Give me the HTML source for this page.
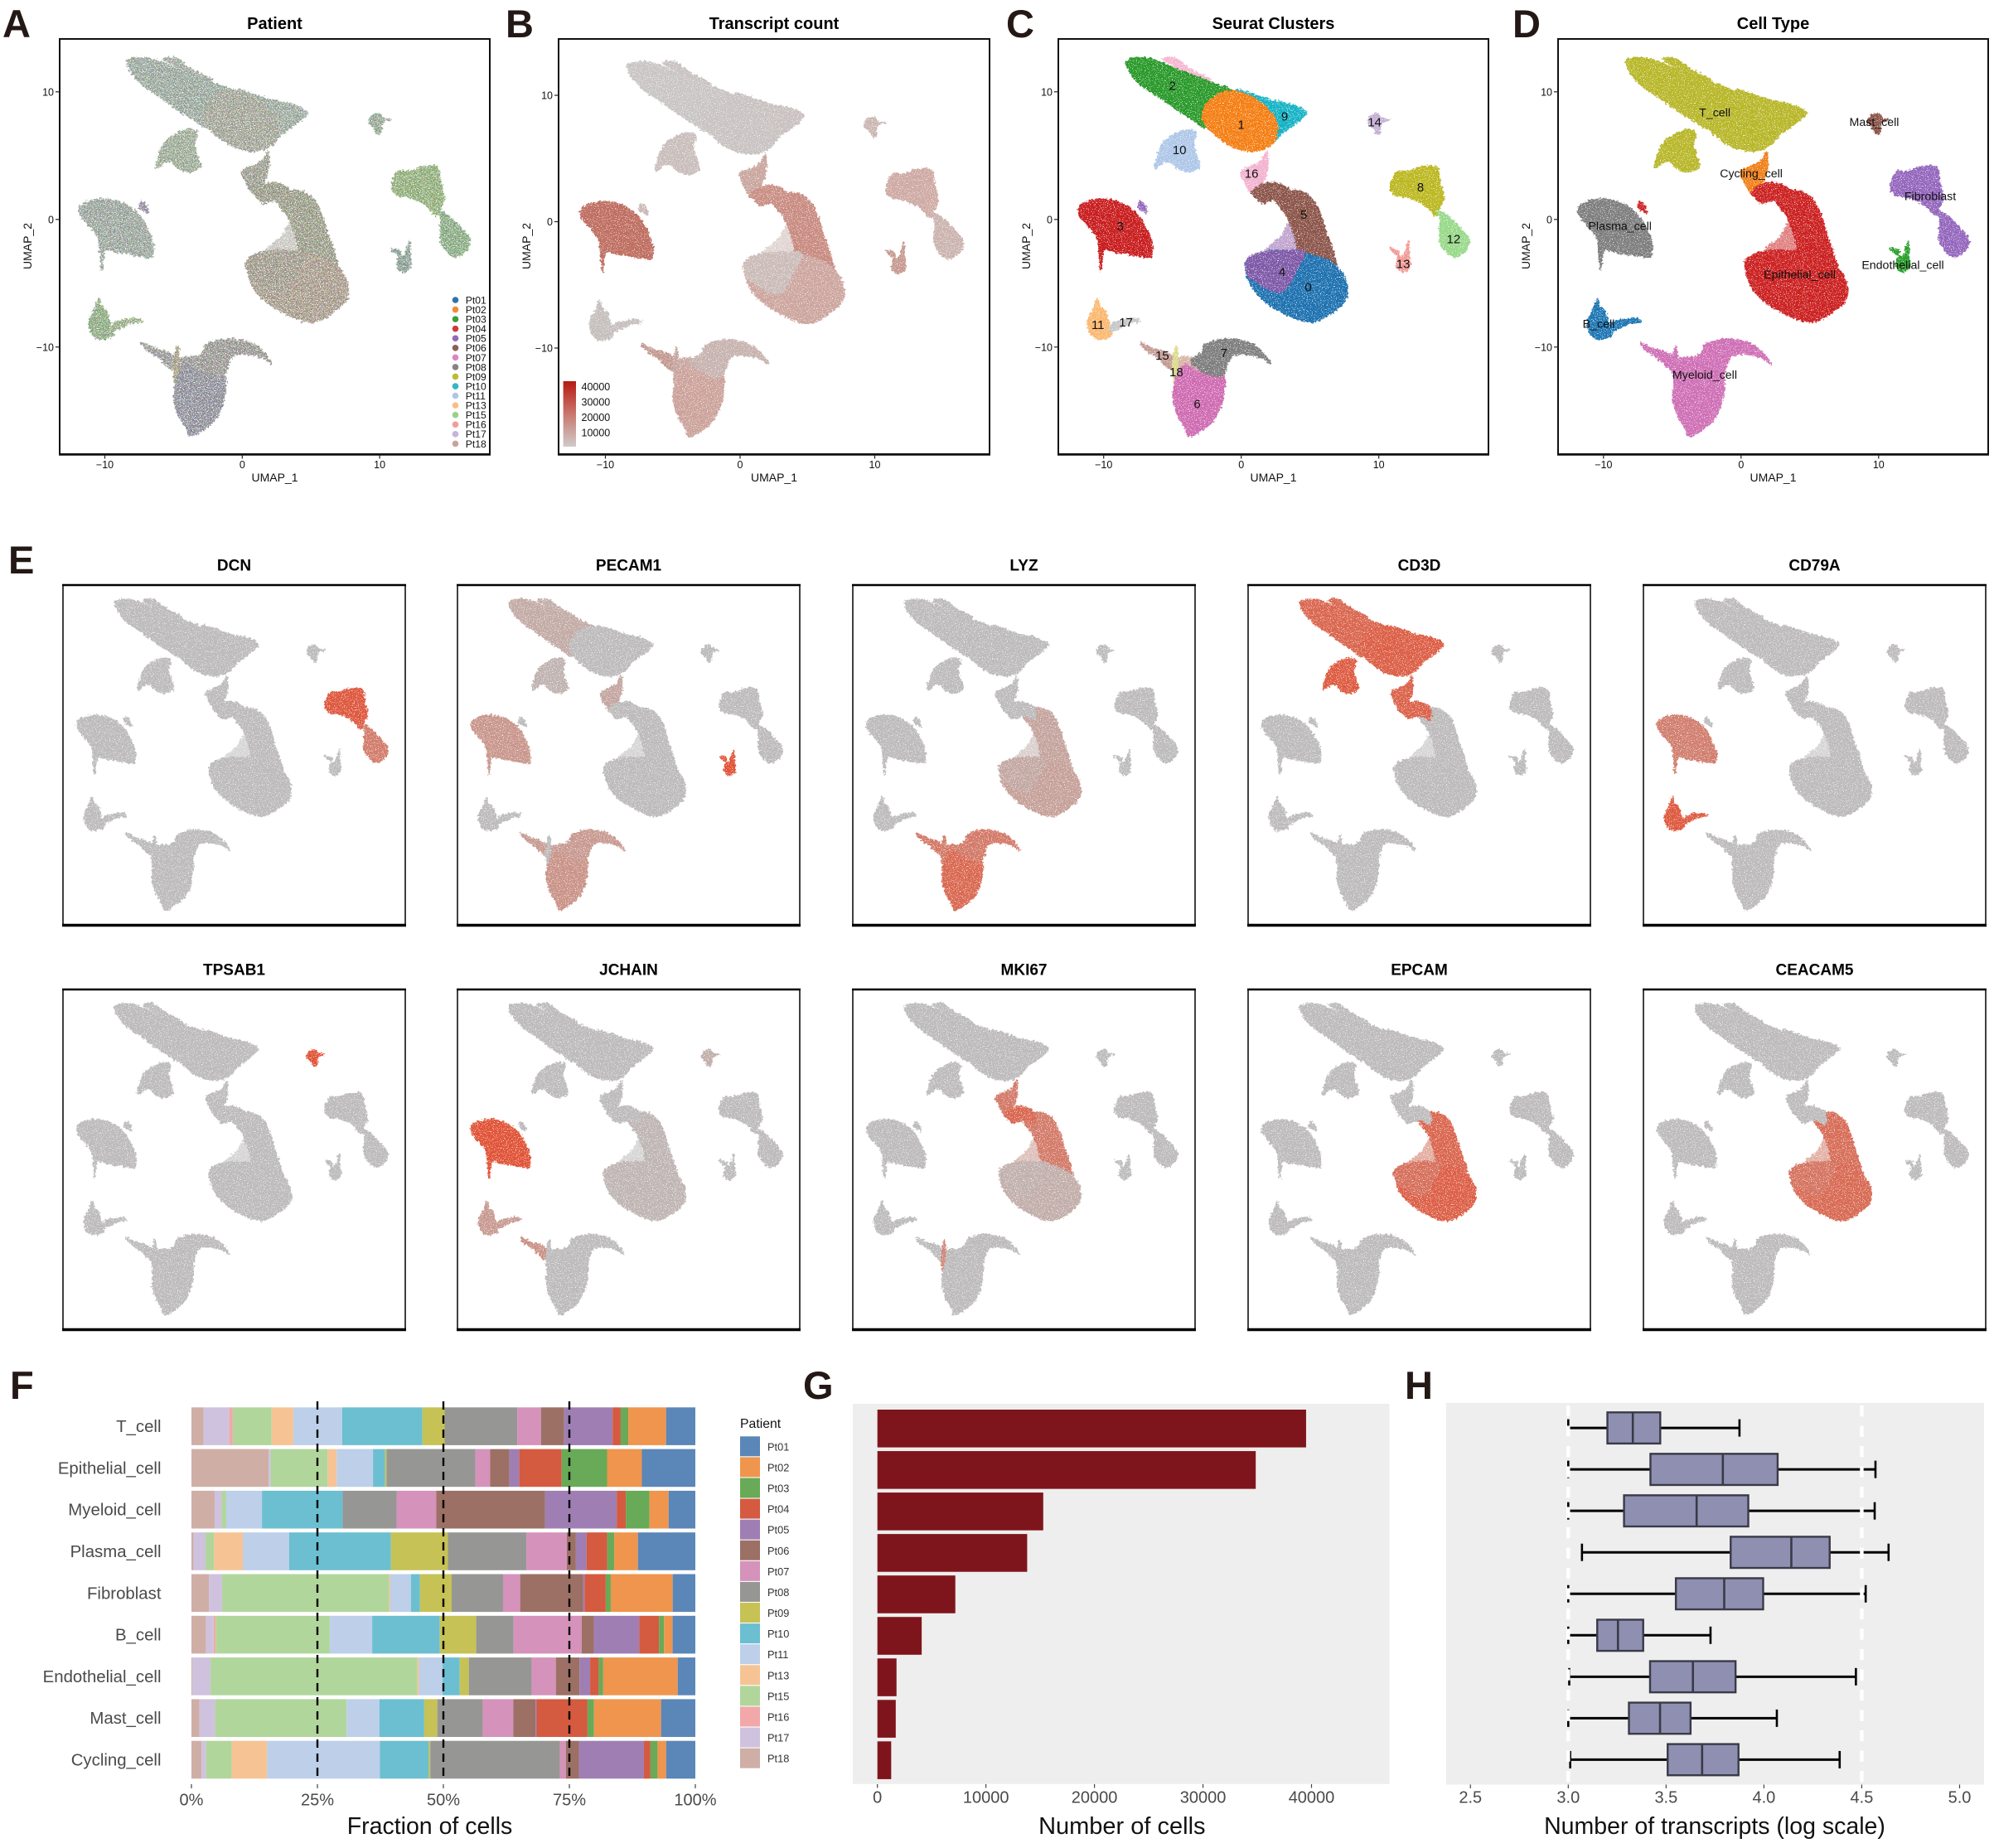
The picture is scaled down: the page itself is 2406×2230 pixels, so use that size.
<!DOCTYPE html>
<html lang="en">
<head>
<meta charset="utf-8">
<title>scRNA-seq atlas overview</title>
<style>
html,body{margin:0;padding:0;background:#fff;}
#figure{display:block;width:2406px;height:2230px;font-family:"Liberation Sans",sans-serif;}
text{font-family:"Liberation Sans",sans-serif;}
</style>
</head>
<body>
<svg id="figure" xmlns="http://www.w3.org/2000/svg" width="2406" height="2230" viewBox="0 0 2406 2230">
<defs>
<linearGradient id="count-gradient" x1="0" y1="0" x2="0" y2="1">
<stop offset="0" stop-color="#b51a12"/><stop offset="0.5" stop-color="#c9776d"/><stop offset="1" stop-color="#cfcbcb"/>
</linearGradient>
<filter id="rough" x="-4%" y="-4%" width="108%" height="108%" color-interpolation-filters="sRGB">
<feTurbulence type="fractalNoise" baseFrequency="0.35" numOctaves="2" seed="3" result="n"/>
<feDisplacementMap in="SourceGraphic" in2="n" scale="6" xChannelSelector="R" yChannelSelector="G" result="d"/>
<feTurbulence type="fractalNoise" baseFrequency="0.9" numOctaves="1" seed="8" result="h"/>
<feColorMatrix in="h" type="matrix" values="0 0 0 0 0  0 0 0 0 0  0 0 0 0 0  12 0 0 0 -3.7" result="mask"/>
<feComposite in="d" in2="mask" operator="in"/>
</filter>
<filter id="mixed" x="-4%" y="-4%" width="108%" height="108%" color-interpolation-filters="sRGB">
<feTurbulence type="fractalNoise" baseFrequency="0.35" numOctaves="2" seed="5" result="n"/>
<feDisplacementMap in="SourceGraphic" in2="n" scale="7" xChannelSelector="R" yChannelSelector="G" result="d"/>
<feTurbulence type="fractalNoise" baseFrequency="0.75" numOctaves="1" seed="11" result="c"/>
<feColorMatrix in="c" type="matrix" values="4 0 0 0 -1.5  0 4 0 0 -1.5  0 0 4 0 -1.5  0 0 0 0 1" result="cc"/>
<feComposite in="cc" in2="d" operator="in" result="ci"/>
<feComposite in="d" in2="ci" operator="arithmetic" k1="0" k2="0.72" k3="0.28" k4="0" result="m"/>
<feTurbulence type="fractalNoise" baseFrequency="0.8" numOctaves="1" seed="21" result="h"/>
<feColorMatrix in="h" type="matrix" values="0 0 0 0 0  0 0 0 0 0  0 0 0 0 0  12 0 0 0 -4" result="mask"/>
<feComposite in="m" in2="mask" operator="in"/>
</filter>
</defs>
</svg>
<script>
// ---------- Cluster outlines read from the UMAP (u, v coordinates) ----------
const clusterSliver = [[-5.77,12.58],[-4.86,12.67],[-4.26,12.2],[-3.46,11.65],[-2.25,11.0],[-2.45,10.7],[-3.66,11.3],[-4.86,12.0]];
const cluster2 = [[-8.38,12.3],[-8.07,12.58],[-7.07,12.67],[-6.07,12.41],[-4.86,11.87],[-3.26,11.22],[-2.05,10.68],[-0.6,10.1],[0.2,9.2],[-1.0,7.5],[-2.6,7.2],[-3.46,7.76],[-4.46,8.41],[-5.86,9.49],[-7.07,10.35],[-7.97,11.33]];
const cluster9 = [[-0.4,10.1],[0.56,9.92],[1.56,9.55],[2.37,9.27],[3.17,9.12],[3.97,8.88],[4.74,8.41],[4.38,7.87],[3.57,7.22],[2.87,6.68],[2.2,6.1],[1.0,7.5],[0.6,8.8]];
const cluster1 = [[-2.85,8.3],[-2.35,9.27],[-1.45,9.92],[-0.44,10.03],[0.76,9.6],[1.76,8.84],[2.57,7.65],[2.57,6.57],[2.27,5.92],[1.36,5.42],[0.36,5.38],[-0.85,5.81],[-1.85,6.57],[-2.65,7.43]];
const cluster10 = [[-3.86,7.04],[-3.26,6.78],[-3.46,5.81],[-3.02,4.29],[-3.26,3.93],[-3.96,3.71],[-4.66,4.01],[-5.06,4.45],[-5.57,4.51],[-6.27,4.01],[-5.97,5.38],[-5.57,6.13],[-4.86,6.68]];
const cluster3 = [[-11.85,0.72],[-11.59,1.2],[-10.68,1.55],[-9.58,1.55],[-8.48,1.16],[-7.47,0.29],[-6.77,-1.01],[-6.47,-1.98],[-6.51,-2.72],[-6.67,-2.98],[-7.67,-2.83],[-9.18,-2.55],[-9.98,-2.45],[-10.2,-4.0],[-10.35,-2.6],[-10.48,-1.44],[-11.09,-0.58],[-11.69,0.18]];
const clusterStray = [[-7.4,1.4],[-7.0,1.1],[-6.85,0.5],[-7.15,0.7],[-7.5,0.9]];
const clusterSparse = [[1.7,-2.7],[2.9,-1.3],[3.55,-0.2],[4.1,-1.5],[5.0,-2.9]];
const cluster16 = [[-0.04,3.75],[0.76,4.19],[1.46,4.62],[1.87,5.3],[1.93,4.08],[1.66,3.1],[1.2,2.35],[0.76,2.02],[0.36,2.67]];
const cluster5a = [[1.06,1.7],[0.76,2.13],[1.36,2.67],[2.37,2.89],[3.5,2.3],[3.5,1.2],[2.67,1.55],[1.52,1.29]];
const cluster5 = [[2.5,2.75],[3.17,2.35],[4.38,2.2],[5.28,1.48],[5.89,0.07],[6.18,-1.01],[6.69,-2.52],[6.9,-4.4],[4.6,-4.0],[3.84,-1.18],[3.27,0.3],[2.45,1.5]];
const cluster0 = [[0.37,-3.18],[1.53,-2.56],[3.39,-2.44],[5.24,-2.81],[6.63,-3.43],[7.56,-4.67],[7.65,-6.17],[6.63,-7.28],[5.24,-8.03],[3.85,-7.73],[1.99,-6.66],[0.84,-5.42],[0.37,-4.18]];
const cluster4 = [[0.37,-3.18],[1.53,-2.56],[3.39,-2.44],[4.6,-2.6],[4.0,-4.0],[3.2,-5.5],[2.2,-5.6],[1.0,-4.8],[0.5,-4.4]];
const cluster8 = [[11.3,3.75],[12.0,3.75],[13.21,4.14],[14.21,4.08],[14.46,2.89],[14.72,1.7],[14.42,0.94],[14.11,0.29],[13.31,1.16],[12.21,1.7],[11.2,1.91],[10.84,2.56]];
const cluster12 = [[14.2,0.7],[15.02,0.29],[16.02,-0.79],[16.56,-1.55],[16.32,-2.42],[15.43,-2.93],[14.52,-1.98],[14.42,-0.79],[14.45,0.07]];
const cluster14 = [[9.2,7.54],[9.4,8.08],[9.9,8.3],[10.3,7.91],[10.8,7.82],[10.2,7.6],[10.1,6.8],[9.84,6.72],[9.56,7.2]];
const cluster13 = [[11.36,-3.06],[11.5,-2.5],[10.8,-2.3],[11.7,-2.9],[12.15,-1.7],[12.2,-2.93],[12.28,-3.68],[11.73,-4.13],[11.26,-3.68]];
const cluster11 = [[-10.45,-6.2],[-10.28,-6.79],[-9.88,-7.16],[-9.68,-7.91],[-9.38,-8.99],[-9.88,-9.32],[-10.58,-9.32],[-11.09,-8.67],[-11.13,-7.8],[-10.79,-7.16]];
const cluster17 = [[-9.6,-8.8],[-9.3,-8.1],[-8.28,-7.8],[-7.57,-7.76],[-7.33,-8.02],[-8.08,-8.13],[-8.78,-8.5]];
const clusterScatter = [[-4.7,-11.0],[-3.6,-10.8],[-3.0,-11.2],[-3.5,-12.0],[-4.8,-12.3]];
const cluster15 = [[-7.33,-9.65],[-6.37,-10.12],[-5.46,-10.4],[-4.76,-10.94],[-4.76,-11.81],[-5.36,-11.59],[-6.07,-10.84],[-6.87,-10.3]];
const cluster18 = [[-4.72,-9.9],[-4.6,-11.3],[-4.8,-13.2],[-5.0,-11.5]];
const cluster7 = [[-3.66,-11.05],[-2.85,-10.4],[-2.55,-9.75],[-1.05,-9.36],[0.56,-9.65],[1.56,-10.4],[2.13,-11.27],[1.8,-11.05],[1.16,-10.73],[-0.24,-10.55],[-0.85,-10.94],[-1.35,-12.24],[-2.45,-12.13],[-3.26,-11.59]];
const cluster6 = [[-4.06,-11.38],[-3.26,-11.81],[-2.45,-12.0],[-1.29,-12.1],[-1.31,-13.97],[-1.85,-15.49],[-2.65,-16.36],[-3.76,-17.0],[-4.06,-16.36],[-4.66,-15.27],[-4.96,-13.97],[-4.86,-12.89],[-4.5,-11.81]];

const clusterIds = ['sl','2','9','1','10','3','st','sp','16','5','5a','0','4','8','12','14','13','11','17','sm','15','18','6','7'];
const clusterShapes = [clusterSliver,cluster2,cluster9,cluster1,cluster10,cluster3,clusterStray,clusterSparse,cluster16,cluster5,cluster5a,cluster0,cluster4,cluster8,cluster12,cluster14,cluster13,cluster11,cluster17,clusterScatter,cluster15,cluster18,cluster6,cluster7];

// Per-cluster colours, one array per colouring, same order as clusterIds
const patientMixColors = ['#b4bfb2','#abbcae','#aebeaf','#b5b8a6','#aec0a4','#acb9ae','#a99fb5','#b9b8a8','#adaf9e','#abae94','#a9ab92','#bcac97','#b2ab98','#9fc480','#94c08c','#a5bba0','#97b4a4','#9abf8a','#a9c595','#aaa9a5','#aaaaa6','#b8b28f','#9d9daa','#aaa8a2'];
const transcriptColors = ['#c9c2c0','#c9c5c4','#c9c1bf','#c9c3c2','#c9bebc','#bf6f62','#cbbab7','#cdbab6','#c9a69f','#c98c82','#c98f85','#cda69f','#cbbcb9','#cfaaa4','#ccb4b0','#cbb7b3','#c79a92','#c5bfbd','#c6bfbd','#cbaaa4','#c39a92','#c7a69f','#cca39c','#c7b3af'];
const seuratColors = ['#f7b6d2','#2b9a2b','#17b3c5','#f47f14','#aec7e8','#c91f20','#9467bd','#9a6cb0','#f3b3d0','#8c564b','#8c564b','#1f72b0','#7f5aa8','#bcb822','#98d98a','#c5b0d5','#f29a96','#fbb870','#c7c7c7','#d8b4a8','#c49c94','#dbdb8d','#cf6cb2','#7f7f7f'];
const cellTypeColors = ['#b8b72a','#b8b72a','#b8b72a','#b8b72a','#b8b72a','#7f7f7f','#cc2222','#cc3030','#f0801a','#cc2222','#cc2222','#cc2222','#cc2222','#9467bd','#9467bd','#8c564b','#2ca02c','#1f77b4','#1f77b4','#cf70b6','#cf70b6','#cf70b6','#cf70b6','#cf70b6'];

const clusterLabels = ['0','1','2','3','4','5','6','7','8','9','10','11','12','13','14','15','16','17','18'];
const clusterLabelU = [4.87,0,-5,-8.8,2.97,4.55,-3.2,-1.25,13.03,3.15,-4.49,-10.42,15.43,11.77,9.69,-5.74,0.75,-8.38,-4.72];
const clusterLabelV = [-5.29,7.45,10.5,-0.5,-4.1,0.4,-14.44,-10.44,2.53,8.1,5.47,-8.25,-1.52,-3.48,7.65,-10.64,3.6,-8.03,-11.93];
const cellTypeLabels = ['T_cell','Mast_cell','Cycling_cell','Fibroblast','Plasma_cell','Epithelial_cell','Endothelial_cell','B_cell','Myeloid_cell'];
const cellTypeLabelU = [-1.91,9.68,0.74,13.75,-8.8,4.26,11.76,-10.35,-2.64];
const cellTypeLabelV = [8.37,7.63,3.6,1.84,-0.5,-4.32,-3.56,-8.18,-12.16];
const umapTicks = [-10,0,10];

// Expression level by cluster for each gene
const exprDCN = {'8':0.95,'12':0.6};
const exprPECAM1 = {'13':1,'3':0.35,'6':0.38,'7':0.32,'15':0.3,'sm':0.3,'sl':0.12,'2':0.16,'16':0.2,'10':0.08};
const exprLYZ = {'6':0.8,'7':0.62,'15':0.65,'sm':0.65,'18':0.6,'5':0.22,'0':0.25,'4':0.18,'sp':0.1};
const exprCD3D = {'sl':0.8,'2':0.82,'1':0.88,'9':0.9,'10':0.92,'16':0.85,'5a':0.85};
const exprCD79A = {'3':0.58,'11':0.95,'17':0.9};
const exprTPSAB1 = {'14':1};
const exprJCHAIN = {'3':1,'11':0.32,'17':0.3,'14':0.12,'15':0.4,'0':0.05,'4':0.05,'5':0.05};
const exprMKI67 = {'16':0.62,'5a':0.8,'5':0.62,'sp':0.35,'18':0.5,'0':0.13,'4':0.1};
const exprEPCAM = {'5':0.82,'4':0.72,'0':0.88,'sp':0.65};
const exprCEACAM5 = {'5':0.75,'4':0.68,'0':0.78,'sp':0.6};
const geneNames = ['DCN','PECAM1','LYZ','CD3D','CD79A','TPSAB1','JCHAIN','MKI67','EPCAM','CEACAM5'];
const geneExpr = [exprDCN,exprPECAM1,exprLYZ,exprCD3D,exprCD79A,exprTPSAB1,exprJCHAIN,exprMKI67,exprEPCAM,exprCEACAM5];

const patientLegendNames = ['Pt01','Pt02','Pt03','Pt04','Pt05','Pt06','Pt07','Pt08','Pt09','Pt10','Pt11','Pt13','Pt15','Pt16','Pt17','Pt18'];
const patientDotColors = ['#2f74ad','#f28b33','#3c9e3c','#cf3b3b','#8f6bb8','#8c5f55','#dd84c4','#858585','#bcbc35','#35b6c8','#aec7e8','#fbbd83','#98d18c','#f29c9a','#c5b5d9','#c9a39b'];
const countLegendLabels = ['40000','30000','20000','10000'];
const countLegendValues = [40000,30000,20000,10000];

// ---------- Panel F ----------
const cellTypes = ['T_cell','Epithelial_cell','Myeloid_cell','Plasma_cell','Fibroblast','B_cell','Endothelial_cell','Mast_cell','Cycling_cell'];
const stackPatients = ['Pt18','Pt17','Pt16','Pt15','Pt13','Pt11','Pt10','Pt09','Pt08','Pt07','Pt06','Pt05','Pt04','Pt03','Pt02','Pt01'];
const stackColors = ['#cfaea6','#cfc2de','#f2a8a8','#b1d69c','#f6c494','#bdcfe9','#6bbfd0','#c6c256','#969694','#d592bb','#9c7065','#9f7fb3','#d45a40','#68aa57','#ef954d','#5b86b8'];
const fracTCell = [2.4,5.1,0.7,7.7,4.3,9.7,15.9,4.4,14.4,4.7,4.6,9.6,1.6,1.5,7.5,5.8];
const fracEpithelial = [15.3,0.4,0,11.3,1.8,7.2,2.4,0.3,17.6,2.9,3.8,2.0,8.4,9.0,6.9,10.6];
const fracMyeloid = [4.6,1.4,0,0.9,0,7.1,16.0,0,10.7,7.9,21.6,14.2,1.8,4.7,3.8,5.3];
const fracPlasma = [0.4,2.4,0,1.7,5.7,9.2,20.2,11.3,15.6,8.0,1.8,2.1,4.1,1.4,4.7,11.4];
const fracFibroblast = [3.5,2.6,0,33.2,0.2,4.1,1.8,6.3,10.2,3.4,12.5,0.3,4.2,1.0,12.3,4.5];
const fracBCell = [2.9,1.5,0.4,22.6,0,8.4,13.4,7.2,7.4,13.5,2.4,9.0,3.9,1.0,1.7,4.5];
const fracEndothelial = [0.2,3.6,0,41.1,0.3,4.7,3.4,1.8,12.5,4.8,4.7,2.1,1.7,0.9,14.8,3.5];
const fracMast = [1.6,3.1,0,26.1,0,6.5,8.9,2.6,9.0,6.1,4.4,0.2,10.1,1.3,13.3,6.8];
const fracCycling = [2.0,0.9,0,5.1,7.0,22.4,9.7,0.3,25.7,1.2,2.6,12.9,1.3,1.4,1.7,5.8];
const fractionRows = [fracTCell,fracEpithelial,fracMyeloid,fracPlasma,fracFibroblast,fracBCell,fracEndothelial,fracMast,fracCycling];
const fractionTicks = [0,25,50,75,100];
const fractionTickLabels = ['0%','25%','50%','75%','100%'];
const fractionGuides = [25,50,75];

// ---------- Panel G ----------
const cellCounts = [39500,34860,15280,13800,7180,4080,1760,1690,1270];
const countTicks = [0,10000,20000,30000,40000];

// ---------- Panel H ----------
const boxLow = [3.0,3.0,3.0,3.07,3.0,3.0,3.005,3.0,3.01];
const boxQ1 = [3.2,3.42,3.285,3.83,3.55,3.148,3.418,3.31,3.508];
const boxMedian = [3.33,3.79,3.656,4.14,3.797,3.254,3.637,3.469,3.684];
const boxQ3 = [3.47,4.07,3.92,4.336,3.996,3.383,3.855,3.625,3.87];
const boxHigh = [3.875,4.57,4.566,4.637,4.52,3.727,4.47,4.066,4.387];
const logTicks = [2.5,3.0,3.5,4.0,4.5,5.0];
const logGuides = [3.0,4.5];

// ---------- Drawing ----------
const NS = 'http://www.w3.org/2000/svg';
const svg = document.getElementById('figure');
function make(tag, parent, attrs, txt){
  const n = document.createElementNS(NS, tag);
  for (const k in attrs) n.setAttribute(k, attrs[k]);
  if (txt !== undefined) n.textContent = txt;
  parent.appendChild(n);
  return n;
}
// Closed Catmull-Rom spline that passes through every outline point
function smoothPath(points, xf, yf){
  const P = points.map(p => [xf(p[0]), yf(p[1])]);
  const n = P.length;
  let d = 'M' + P[0][0].toFixed(1) + ' ' + P[0][1].toFixed(1);
  for (let i = 0; i < n; i++){
    const p0 = P[(i-1+n)%n], p1 = P[i], p2 = P[(i+1)%n], p3 = P[(i+2)%n];
    const c1x = p1[0] + (p2[0]-p0[0]) / 6, c1y = p1[1] + (p2[1]-p0[1]) / 6;
    const c2x = p2[0] - (p3[0]-p1[0]) / 6, c2y = p2[1] - (p3[1]-p1[1]) / 6;
    d += 'C' + c1x.toFixed(1) + ' ' + c1y.toFixed(1) + ' ' + c2x.toFixed(1) + ' ' + c2y.toFixed(1) + ' ' + p2[0].toFixed(1) + ' ' + p2[1].toFixed(1);
  }
  return d + 'Z';
}
function panelLetter(ch, x, y){
  const t = make('text', svg, {x:x, y:y, 'font-size':47, 'font-weight':'700', fill:'#231815'}, ch);
  
  
}
function drawClusters(group, xf, yf, colors, filterId){
  const g = make('g', group, {filter:'url(#' + filterId + ')'});
  
  
  clusterShapes.forEach((shape, i) => {
    const p = make('path', g, {d:smoothPath(shape, xf, yf), fill:colors[i], stroke:colors[i], 'stroke-width':1.5, opacity:clusterIds[i] === 'sp' ? 0.6 : 1});
    
    
  });
}
function drawFrame(g, L, T, R, B, name){
  const f = make('rect', g, {x:L, y:T, width:R-L, height:B-T, fill:'none', stroke:'#111', 'stroke-width':2});
  
  
  const b = make('line', g, {x1:L-1, x2:R+1, y1:B+0.5, y2:B+0.5, stroke:'#111', 'stroke-width':2.5});
  
  
}
function umapPanel(cfg){
  const g = make('g', svg, {});
  
  
  const xf = u => cfg.x0 + cfg.xs * u;
  const yf = v => cfg.y0 - cfg.ys * v;
  drawClusters(g, xf, yf, cfg.colors, cfg.filter);
  drawFrame(g, cfg.L, 47, cfg.R, 548, cfg.name + '-frame');
  const title = make('text', g, {x:(cfg.L+cfg.R)/2, y:35, 'font-size':20, 'font-weight':'700', 'text-anchor':'middle', fill:'#000'}, cfg.title);
  
  
  umapTicks.forEach(t => {
    const label = t < 0 ? '\u2212' + Math.abs(t) : String(t);
    const tx = make('line', g, {x1:xf(t), x2:xf(t), y1:549, y2:553.5, stroke:'#222', 'stroke-width':1.2});
    
    
    const lx = make('text', g, {x:xf(t), y:565, 'font-size':12.5, 'text-anchor':'middle', fill:'#111'}, label);
    
    
    const ty = make('line', g, {x1:cfg.L-5, x2:cfg.L, y1:yf(t), y2:yf(t), stroke:'#222', 'stroke-width':1.2});
    
    
    const ly = make('text', g, {x:cfg.L-7, y:yf(t)+4.5, 'font-size':12.5, 'text-anchor':'end', fill:'#111'}, label);
    
    
  });
  const xt = make('text', g, {x:(cfg.L+cfg.R)/2, y:581, 'font-size':14, 'text-anchor':'middle', fill:'#111'}, 'UMAP_1');
  
  
  const ymid = 297, yx = cfg.L - 34;
  const yt = make('text', g, {x:yx, y:ymid, 'font-size':14, 'text-anchor':'middle', fill:'#111', transform:'rotate(-90 ' + yx + ' ' + ymid + ')'}, 'UMAP_2');
  
  
  return {g, xf, yf};
}

panelLetter('A',3,45); panelLetter('B',610,45); panelLetter('C',1214,45); panelLetter('D',1825,45);
panelLetter('E',10,692); panelLetter('F',12,1688); panelLetter('G',969,1688); panelLetter('H',1695,1688);

const pA = umapPanel({name:'patient-umap', title:'Patient', L:72, R:591, x0:292.3, xs:16.58, y0:264.8, ys:15.4, colors:patientMixColors, filter:'mixed'});
patientLegendNames.forEach((n, i) => {
  const y = 362 + i * 11.56;
  const dot = make('circle', pA.g, {cx:549.5, cy:y, r:3.8, fill:patientDotColors[i]});
  
  
  const t = make('text', pA.g, {x:561.7, y:y+4.4, 'font-size':12.2, fill:'#111'}, n);
  
  
});

const pB = umapPanel({name:'transcript-count-umap', title:'Transcript count', L:674, R:1194, x0:893, xs:16.25, y0:267.5, ys:15.25, colors:transcriptColors, filter:'rough'});
const cbar = make('rect', pB.g, {x:679.6, y:460, width:15.4, height:79, fill:'url(#count-gradient)'});


const countLegendY = v => 522 - (v - 10000) * (55.5 / 30000);
countLegendLabels.forEach((s, i) => {
  const t = make('text', pB.g, {x:701.5, y:countLegendY(countLegendValues[i]) + 4.5, 'font-size':12.5, fill:'#111'}, s);
  
  
});

const pC = umapPanel({name:'seurat-clusters-umap', title:'Seurat Clusters', L:1277, R:1796, x0:1497.7, xs:16.6, y0:264.8, ys:15.4, colors:seuratColors, filter:'rough'});
clusterLabels.forEach((s, i) => {
  const t = make('text', pC.g, {x:pC.xf(clusterLabelU[i]), y:pC.yf(clusterLabelV[i]) + 5.3, 'font-size':15, 'text-anchor':'middle', fill:'#111'}, s);
  
  
});

const pD = umapPanel({name:'cell-type-umap', title:'Cell Type', L:1880, R:2399, x0:2100.8, xs:16.6, y0:264.8, ys:15.4, colors:cellTypeColors, filter:'rough'});
cellTypeLabels.forEach((s, i) => {
  const t = make('text', pD.g, {x:pD.xf(cellTypeLabelU[i]), y:pD.yf(cellTypeLabelV[i]) + 4.8, 'font-size':14.2, 'text-anchor':'middle', fill:'#111'}, s);
  
  
});

// Panel E
function exprColor(level){
  const lo = [189,187,187], hi = [224,84,56];
  const c = lo.map((a, i) => Math.round(a + (hi[i] - a) * level));
  return 'rgb(' + c.join(',') + ')';
}
const geneLefts = [76,552,1029,1506,1983];
const geneTops = [706,1194];
geneNames.forEach((gene, k) => {
  const col = k % 5, row = Math.floor(k / 5);
  const L = geneLefts[col], T = geneTops[row], R = L + 413, B = T + 410.5;
  const g = make('g', svg, {});
  
  
  const xf = u => L + 173 + 13.2 * u;
  const yf = v => T + 177.3 - 12.64 * v;
  const colors = clusterIds.map(id => exprColor(geneExpr[k][id] || 0));
  drawClusters(g, xf, yf, colors, 'rough');
  const f = make('rect', g, {x:L, y:T, width:R-L, height:B-T, fill:'none', stroke:'#111', 'stroke-width':1.6});
  
  
  const top = make('line', g, {x1:L-1, x2:R+1, y1:T, y2:T, stroke:'#000', 'stroke-width':2.6});
  
  
  const bot = make('line', g, {x1:L-1, x2:R+1, y1:B, y2:B, stroke:'#000', 'stroke-width':3.4});
  
  
  const t = make('text', g, {x:(L+R)/2, y:T-17.5, 'font-size':19, 'font-weight':'700', 'text-anchor':'middle', fill:'#000'}, gene);
  
  
});

// Panel F
const gF = make('g', svg, {});


const fx = p => 231 + 6.08 * p;
const rowY = i => 1698.3 + 50.3 * i;
const rowH = 45.6;
fractionRows.forEach((vals, r) => {
  const sum = vals.reduce((a, b) => a + b, 0);
  let acc = 0;
  vals.forEach((v, i) => {
    if (v <= 0) return;
    const pct = v / sum * 100;
    const seg = make('rect', gF, {x:fx(acc), y:rowY(r), width:6.08 * pct, height:rowH, fill:stackColors[i]});
    
    
    acc += pct;
  });
  const lab = make('text', gF, {x:194.5, y:rowY(r) + rowH/2 + 7, 'font-size':20.4, 'text-anchor':'end', fill:'#4a4a4a'}, cellTypes[r]);
  
  
});
fractionGuides.forEach(p => {
  const l = make('line', gF, {x1:fx(p), x2:fx(p), y1:1691, y2:2147, stroke:'#000', 'stroke-width':2.4, 'stroke-dasharray':'10 7'});
  
  
});
fractionTicks.forEach((p, i) => {
  const tk = make('line', gF, {x1:fx(p), x2:fx(p), y1:2153, y2:2158, stroke:'#444', 'stroke-width':1.2});
  
  
  const tl = make('text', gF, {x:fx(p), y:2178.5, 'font-size':20, 'text-anchor':'middle', fill:'#4a4a4a'}, fractionTickLabels[i]);
  
  
});
const fTitle = make('text', gF, {x:518.5, y:2213, 'font-size':28.5, 'text-anchor':'middle', fill:'#111'}, 'Fraction of cells');


const fLegendTitle = make('text', gF, {x:893, y:1723, 'font-size':15.8, fill:'#111'}, 'Patient');


patientLegendNames.forEach((n, i) => {
  const y = 1733.3 + i * 25.09;
  const colorIdx = stackPatients.indexOf(n);
  const sw = make('rect', gF, {x:893, y:y, width:24, height:24, fill:stackColors[colorIdx]});
  
  
  const t = make('text', gF, {x:926, y:y + 17, 'font-size':12.8, fill:'#333'}, n);
  
  
});

// Panel G
const gG = make('g', svg, {});


const bgG = make('rect', gG, {x:1029, y:1694, width:647.5, height:458.8, fill:'#eeeeee'});


const gx = v => 1058.7 + v * 0.013095;
cellCounts.forEach((v, i) => {
  const b = make('rect', gG, {x:gx(0), y:1701 + 50.04 * i, width:gx(v) - gx(0), height:45.6, fill:'#7f151c'});
  
  
});
countTicks.forEach(t => {
  const tk = make('line', gG, {x1:gx(t), x2:gx(t), y1:2153, y2:2157.5, stroke:'#444', 'stroke-width':1.2});
  
  
  const tl = make('text', gG, {x:gx(t), y:2175.5, 'font-size':20, 'text-anchor':'middle', fill:'#4a4a4a'}, String(t));
  
  
});
const gTitle = make('text', gG, {x:1353.8, y:2213, 'font-size':29, 'text-anchor':'middle', fill:'#111'}, 'Number of cells');



// Panel H
const gH = make('g', svg, {});


const bgH = make('rect', gH, {x:1744.8, y:1693, width:649.2, height:460.5, fill:'#eeeeee'});


const hx = v => 1892.3 + (v - 3) * 236.1;
const boxY = i => 1723.1 + 50.04 * i;
cellTypes.forEach((c, i) => {
  const y = boxY(i);
  const w = make('line', gH, {x1:hx(boxLow[i]), x2:hx(boxHigh[i]), y1:y, y2:y, stroke:'#000', 'stroke-width':3});
  
  
  const capL = make('line', gH, {x1:hx(boxLow[i]), x2:hx(boxLow[i]), y1:y-10.5, y2:y+10.5, stroke:'#000', 'stroke-width':2.6});
  
  
  const capH = make('line', gH, {x1:hx(boxHigh[i]), x2:hx(boxHigh[i]), y1:y-10.5, y2:y+10.5, stroke:'#000', 'stroke-width':2.6});
  
  
  const b = make('rect', gH, {x:hx(boxQ1[i]), y:y-18.8, width:hx(boxQ3[i]) - hx(boxQ1[i]), height:37.6, fill:'#8f8fb2', stroke:'#3a3a48', 'stroke-width':2.4});
  
  
  const m = make('line', gH, {x1:hx(boxMedian[i]), x2:hx(boxMedian[i]), y1:y-18.8, y2:y+18.8, stroke:'#3a3a48', 'stroke-width':2.6});
  
  
});
logGuides.forEach(v => {
  const l = make('line', gH, {x1:hx(v), x2:hx(v), y1:1696, y2:2153, stroke:'#fff', 'stroke-width':4.4, 'stroke-dasharray':'13.3 11.2'});
  
  
});
logTicks.forEach(t => {
  const tk = make('line', gH, {x1:hx(t), x2:hx(t), y1:2153.5, y2:2158, stroke:'#444', 'stroke-width':1.2});
  
  
  const tl = make('text', gH, {x:hx(t), y:2175.5, 'font-size':20, 'text-anchor':'middle', fill:'#4a4a4a'}, t.toFixed(1));
  
  
});
const hTitle = make('text', gH, {x:2069, y:2213, 'font-size':28.5, 'text-anchor':'middle', fill:'#111'}, 'Number of transcripts (log scale)');


</script>
</body>
</html>
